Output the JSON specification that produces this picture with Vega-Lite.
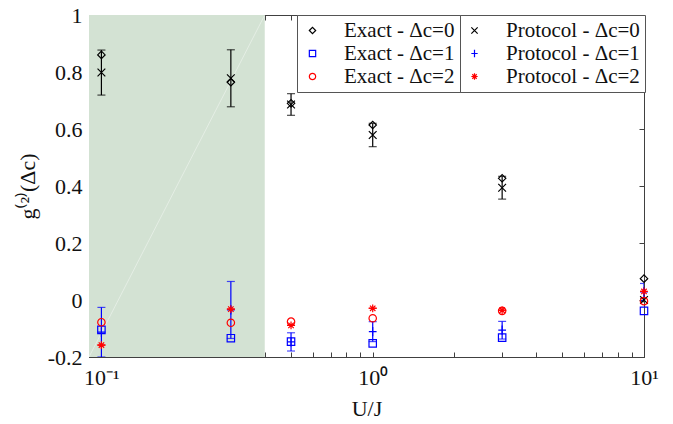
{
  "$schema": "https://vega.github.io/schema/vega-lite/v6.json",
  "width": 555,
  "height": 342,
  "autosize": {"type": "none"},
  "padding": {"left": 89, "top": 15, "right": 29, "bottom": 67},
  "background": "white",
  "config": {
    "font": "Liberation Serif",
    "view": {"stroke": "#404040", "strokeWidth": 1},
    "axis": {
      "labelFont": "Liberation Serif",
      "titleFont": "Liberation Serif",
      "labelFontSize": 22,
      "titleFontSize": 22,
      "labelColor": "#111",
      "titleColor": "#111",
      "titleFontWeight": "normal",
      "domainColor": "#404040",
      "tickColor": "#404040",
      "grid": false,
      "tickSize": -5
    }
  },
  "datasets": {
    "exact": [
      {"U": 0.1, "series": "Exact - Δc=0", "g": 0.860},
      {"U": 0.3, "series": "Exact - Δc=0", "g": 0.764},
      {"U": 0.5, "series": "Exact - Δc=0", "g": 0.690},
      {"U": 1, "series": "Exact - Δc=0", "g": 0.614},
      {"U": 3, "series": "Exact - Δc=0", "g": 0.427},
      {"U": 10, "series": "Exact - Δc=0", "g": 0.075},
      {"U": 0.1, "series": "Exact - Δc=1", "g": -0.105},
      {"U": 0.3, "series": "Exact - Δc=1", "g": -0.134},
      {"U": 0.5, "series": "Exact - Δc=1", "g": -0.146},
      {"U": 1, "series": "Exact - Δc=1", "g": -0.152},
      {"U": 3, "series": "Exact - Δc=1", "g": -0.132},
      {"U": 10, "series": "Exact - Δc=1", "g": -0.038},
      {"U": 0.1, "series": "Exact - Δc=2", "g": -0.078},
      {"U": 0.3, "series": "Exact - Δc=2", "g": -0.080},
      {"U": 0.5, "series": "Exact - Δc=2", "g": -0.076},
      {"U": 1, "series": "Exact - Δc=2", "g": -0.064},
      {"U": 3, "series": "Exact - Δc=2", "g": -0.038},
      {"U": 10, "series": "Exact - Δc=2", "g": -0.004}
    ],
    "protocol": [
      {"U": 0.1, "series": "Protocol - Δc=0", "g": 0.798, "err": 0.079},
      {"U": 0.3, "series": "Protocol - Δc=0", "g": 0.778, "err": 0.100},
      {"U": 0.5, "series": "Protocol - Δc=0", "g": 0.686, "err": 0.038},
      {"U": 1, "series": "Protocol - Δc=0", "g": 0.579, "err": 0.041},
      {"U": 3, "series": "Protocol - Δc=0", "g": 0.394, "err": 0.040},
      {"U": 10, "series": "Protocol - Δc=0", "g": 0.000, "err": 0.006},
      {"U": 0.1, "series": "Protocol - Δc=1", "g": -0.113, "err": 0.087},
      {"U": 0.3, "series": "Protocol - Δc=1", "g": -0.035, "err": 0.100},
      {"U": 0.5, "series": "Protocol - Δc=1", "g": -0.147, "err": 0.032},
      {"U": 1, "series": "Protocol - Δc=1", "g": -0.111, "err": 0.035},
      {"U": 3, "series": "Protocol - Δc=1", "g": -0.106, "err": 0.031},
      {"U": 10, "series": "Protocol - Δc=1", "g": 0.028, "err": 0.030},
      {"U": 0.1, "series": "Protocol - Δc=2", "g": -0.158, "err": 0.0},
      {"U": 0.3, "series": "Protocol - Δc=2", "g": -0.032, "err": 0.0},
      {"U": 0.5, "series": "Protocol - Δc=2", "g": -0.089, "err": 0.0},
      {"U": 1, "series": "Protocol - Δc=2", "g": -0.029, "err": 0.0},
      {"U": 3, "series": "Protocol - Δc=2", "g": -0.036, "err": 0.0},
      {"U": 10, "series": "Protocol - Δc=2", "g": 0.030, "err": 0.0}
    ],
    "region": [
      {"x0": 0.09, "x1": 0.4, "y0": -0.2, "y1": 1}
    ]
  },
  "layer": [
    {
      "data": {"name": "region"},
      "mark": {"type": "rect", "color": "#d3e2d3", "opacity": 1},
      "encoding": {
        "x": {"field": "x0", "type": "quantitative", "scale": {"type": "log", "domain": [0.09, 10], "nice": false}, "title": "U/J",
          "axis": {"orient": "bottom",
            "values": [0.1,0.2,0.3,0.4,0.5,0.6,0.7,0.8,0.9,1,2,3,4,5,6,7,8,9,10],
            "labelExpr": "datum.value == 0.1 ? '10⁻¹' : datum.value == 1 ? '10⁰' : datum.value == 10 ? '10¹' : ''",
            "labelPadding": 15, "titlePadding": 10, "labelFlush": false, "labelOverlap": false}},
        "x2": {"field": "x1"},
        "y": {"field": "y0", "type": "quantitative", "scale": {"domain": [-0.2, 1], "nice": false}, "title": "g⁽²⁾(Δc)",
          "axis": {"orient": "left", "values": [-0.2, 0, 0.2, 0.4, 0.6, 0.8, 1],
            "labelExpr": "replace(format(datum.value, '~g'), '−', '-')",
            "labelPadding": 12, "titlePadding": 8}},
        "y2": {"field": "y1"}
      }
    },
    {
      "data": {"name": "region"},
      "mark": {"type": "rule", "color": "white", "strokeWidth": 0.8, "opacity": 0.5},
      "encoding": {
        "x": {"field": "x0", "type": "quantitative", "axis": {"orient": "top", "values": [0.1,0.2,0.3,0.4,0.5,0.6,0.7,0.8,0.9,1,2,3,4,5,6,7,8,9,10], "labels": false, "title": null}},
        "x2": {"field": "x1"},
        "y": {"field": "y0", "type": "quantitative", "axis": {"orient": "right", "values": [-0.2, 0, 0.2, 0.4, 0.6, 0.8, 1], "labels": false, "title": null}},
        "y2": {"field": "y1"}
      }
    },
    {
      "data": {"name": "protocol"},
      "mark": {"type": "errorbar", "ticks": {"size": 8}, "thickness": 1.2, "clip": true},
      "encoding": {
        "x": {"field": "U", "type": "quantitative", "axis": null},
        "y": {"field": "g", "type": "quantitative", "axis": null},
        "yError": {"field": "err"},
        "color": {"field": "series", "type": "nominal",
          "scale": {"domain": ["Protocol - Δc=0", "Protocol - Δc=1", "Protocol - Δc=2"], "range": ["#000000", "#0000ff", "#ff0000"]},
          "legend": null}
      }
    },
    {
      "data": {"name": "protocol"},
      "mark": {"type": "point", "filled": false, "strokeWidth": 1.2, "size": 60, "opacity": 1},
      "encoding": {
        "x": {"field": "U", "type": "quantitative", "axis": null},
        "y": {"field": "g", "type": "quantitative", "axis": null},
        "color": {"field": "series", "type": "nominal",
          "scale": {"domain": ["Protocol - Δc=0", "Protocol - Δc=1", "Protocol - Δc=2"], "range": ["#000000", "#0000ff", "#ff0000"]},
          "legend": {"orient": "none", "legendX": 370, "legendY": 0, "title": null,
            "strokeColor": "#555", "fillColor": "white", "padding": 5, "labelLimit": 400,
            "labelFont": "Liberation Serif", "labelFontSize": 21, "labelColor": "#111",
            "symbolOffset": 0, "labelOffset": 21, "rowPadding": 1, "symbolSize": 40, "symbolStrokeWidth": 1.2}},
        "shape": {"field": "series", "type": "nominal",
          "scale": {"domain": ["Protocol - Δc=0", "Protocol - Δc=1", "Protocol - Δc=2"],
            "range": ["M-1,-1L1,1M1,-1L-1,1", "M-1,0L1,0M0,-1.2L0,1.2", "M-1,0L1,0M0,-1L0,1M-0.7,-0.7L0.7,0.7M0.7,-0.7L-0.7,0.7"]}}
      }
    },
    {
      "data": {"name": "exact"},
      "mark": {"type": "point", "filled": false, "strokeWidth": 1.2, "size": 55, "opacity": 1},
      "encoding": {
        "x": {"field": "U", "type": "quantitative", "axis": null},
        "y": {"field": "g", "type": "quantitative", "axis": null},
        "color": {"field": "series", "type": "nominal",
          "scale": {"domain": ["Exact - Δc=0", "Exact - Δc=1", "Exact - Δc=2"], "range": ["#000000", "#0000ff", "#ff0000"]},
          "legend": {"orient": "none", "legendX": 208, "legendY": 0, "title": null,
            "strokeColor": "#555", "fillColor": "white", "padding": 5, "labelLimit": 400,
            "labelFont": "Liberation Serif", "labelFontSize": 21, "labelColor": "#111",
            "symbolOffset": 0, "labelOffset": 21, "rowPadding": 1, "symbolSize": 40, "symbolStrokeWidth": 1.2}},
        "shape": {"field": "series", "type": "nominal",
          "scale": {"domain": ["Exact - Δc=0", "Exact - Δc=1", "Exact - Δc=2"], "range": ["diamond", "square", "circle"]}}
      }
    }
  ],
  "resolve": {"scale": {"color": "independent", "shape": "independent"}, "legend": {"color": "independent", "shape": "independent"}}
}
